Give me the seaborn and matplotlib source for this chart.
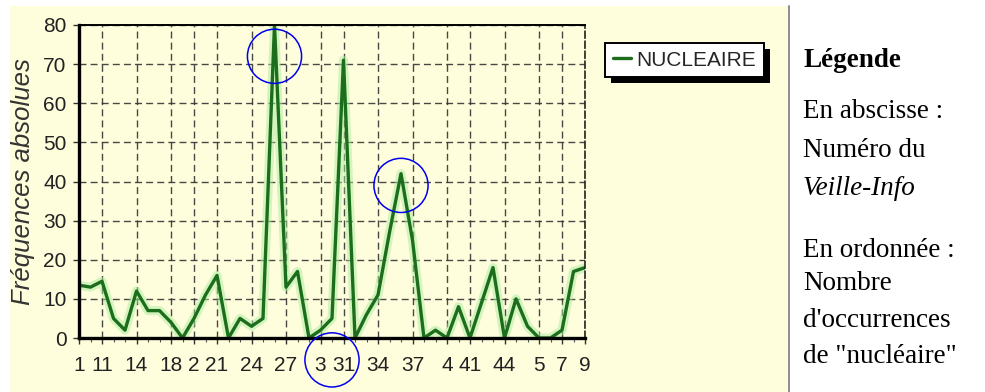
import numpy as np
import pandas as pd
import matplotlib
matplotlib.use("Agg")
import matplotlib.pyplot as plt
import seaborn as sns
from matplotlib.patches import Rectangle
from matplotlib.lines import Line2D

# ---------------- data ----------------
issues = ["1", "10", "11", "12", "13", "14", "15", "17", "18", "19",
          "2", "20", "21", "22", "23", "24", "25", "26", "27", "28", "29",
          "3", "30", "31", "32", "33", "34", "35", "36", "37", "38", "39",
          "4", "40", "41", "42", "43", "44", "45", "46",
          "5", "6", "7", "8", "9"]
nucleaire = [13.5, 13, 14.5, 5, 2, 12, 7, 7, 4, 0,
             5, 11, 16, 0, 5, 3, 5, 80, 13, 17, 0,
             2, 5, 71, 0, 6, 11, 27, 42, 25, 0, 2,
             0, 8, 0, 9, 18, 0, 10, 3,
             0, 0, 2, 17, 18]
shown_labels = ["1", "11", "14", "18", "2", "21", "24", "27", "3", "31",
                "34", "37", "4", "41", "44", "5", "7", "9"]
y_ticks = [0, 10, 20, 30, 40, 50, 60, 70, 80]
highlighted = ["26", "30", "36"]
series_name = "NUCLEAIRE"
y_title = "Fréquences absolues"
legend_title = "Légende"
legend_lines = [("En abscisse :", "normal"), ("Numéro du", "normal"),
                ("Veille-Info", "italic"), ("En ordonnée :", "normal"),
                ("Nombre", "normal"), ("d'occurrences", "normal"),
                ("de \"nucléaire\"", "normal")]

df = pd.DataFrame({"issue": issues, "value": nucleaire})
df["pos"] = np.arange(len(df))

# ---------------- style ----------------
sns.set_theme(style="white")
plt.rcParams["font.family"] = ["Liberation Sans", "DejaVu Sans"]

W, H = 985, 392
fig = plt.figure(figsize=(W / 100, H / 100), dpi=100)
fig.patch.set_facecolor("white")

cream = "#FFFEDC"
green = "#1c6e1c"

fig.add_artist(Rectangle((10 / W, 0), (789 - 10) / W, (H - 6) / H,
                         transform=fig.transFigure, facecolor=cream,
                         edgecolor="none", zorder=-10))
fig.add_artist(Line2D([789 / W, 789 / W], [0, (H - 6) / H],
                      transform=fig.transFigure, color="#8c8c8c",
                      lw=1.4, zorder=-9))

ax = fig.add_axes([79 / W, 1 - 338 / H, (585 - 79) / W, (338 - 25) / H])
ax.set_facecolor("none")

# halo + main line
sns.lineplot(data=df, x="pos", y="value", ax=ax, color="#a8eca0",
             lw=6.5, alpha=0.5, legend=False)
sns.lineplot(data=df, x="pos", y="value", ax=ax, color=green, lw=2.4,
             label=series_name)
ax.get_legend().remove()

ax.set_xlim(0, len(issues) - 1)
ax.set_ylim(0, 80)

# ticks
major_pos = [issues.index(l) for l in shown_labels]
ax.set_xticks(major_pos)
ax.set_xticklabels(shown_labels)
ax.set_xticks(df["pos"].tolist(), minor=True)
ax.set_yticks(y_ticks)
ax.set_yticklabels([str(v) for v in y_ticks])
ax.tick_params(axis="x", which="major", direction="out", length=4,
               width=1, color="#333333", pad=9, labelsize=15,
               labelcolor="#222222", bottom=True)
ax.tick_params(axis="x", which="minor", direction="out", length=3,
               width=0.8, color="#555555", bottom=True)
ax.tick_params(axis="y", which="major", direction="out", length=4,
               width=1, color="#333333", pad=5, labelsize=15,
               labelcolor="#222222", left=True)

# grid
ax.set_axisbelow(True)
ax.grid(True, which="major", linestyle=(0, (5, 3)), color="#333333",
        linewidth=1.0, alpha=0.9)

# spines
for s in ["left", "bottom"]:
    ax.spines[s].set_color("black")
    ax.spines[s].set_linewidth(2.4)
ax.spines["top"].set_color("black")
ax.spines["top"].set_linewidth(1.4)
ax.spines["right"].set_color("#222222")
ax.spines["right"].set_linewidth(1.2)
ax.spines["right"].set_linestyle((0, (4, 2)))

ax.set_xlabel("")
ax.set_ylabel(y_title, fontsize=18.5, style="italic", color="#333333")
ax.yaxis.set_label_coords(-0.086, 0.5)

# blue highlight circles
hx = [issues.index(h) for h in highlighted]
ax.scatter(hx, [72, -5.6, 39], s=1520, facecolors="none",
           edgecolors="#0000ee", linewidths=1.1, clip_on=False, zorder=6)

# legend with hard black shadow
handles, labels = ax.get_legend_handles_labels()
leg = fig.legend(handles[-1:], labels[-1:], loc="upper left",
                 bbox_to_anchor=(605 / W, 1 - 43 / H), frameon=True,
                 fancybox=False, edgecolor="black", facecolor="white",
                 framealpha=1, borderpad=0.36, handlelength=0.9,
                 handletextpad=0.25, borderaxespad=0,
                 prop={"family": "Liberation Sans", "size": 15})
leg.get_frame().set_linewidth(1.4)
leg.set_zorder(5)
fig.canvas.draw()
bb = leg.get_window_extent()
fig.add_artist(Rectangle((bb.x0 + 6, bb.y0 - 6), bb.width, bb.height,
                         transform=None, facecolor="black",
                         edgecolor="none", zorder=4.9))

# right-hand text legend
fig.text(803 / W, 1 - 67 / H, legend_title, family="Liberation Serif",
         fontsize=19.5, fontweight="bold", va="baseline", color="black")
baselines = [118, 157, 195, 257, 290, 327, 363]
for (txt, st), b in zip(legend_lines, baselines):
    fig.text(803 / W, 1 - b / H, txt, family="Liberation Serif",
             fontsize=19.5, style=st, va="baseline", color="black")

fig.savefig("out.png", dpi=100, facecolor="white")
